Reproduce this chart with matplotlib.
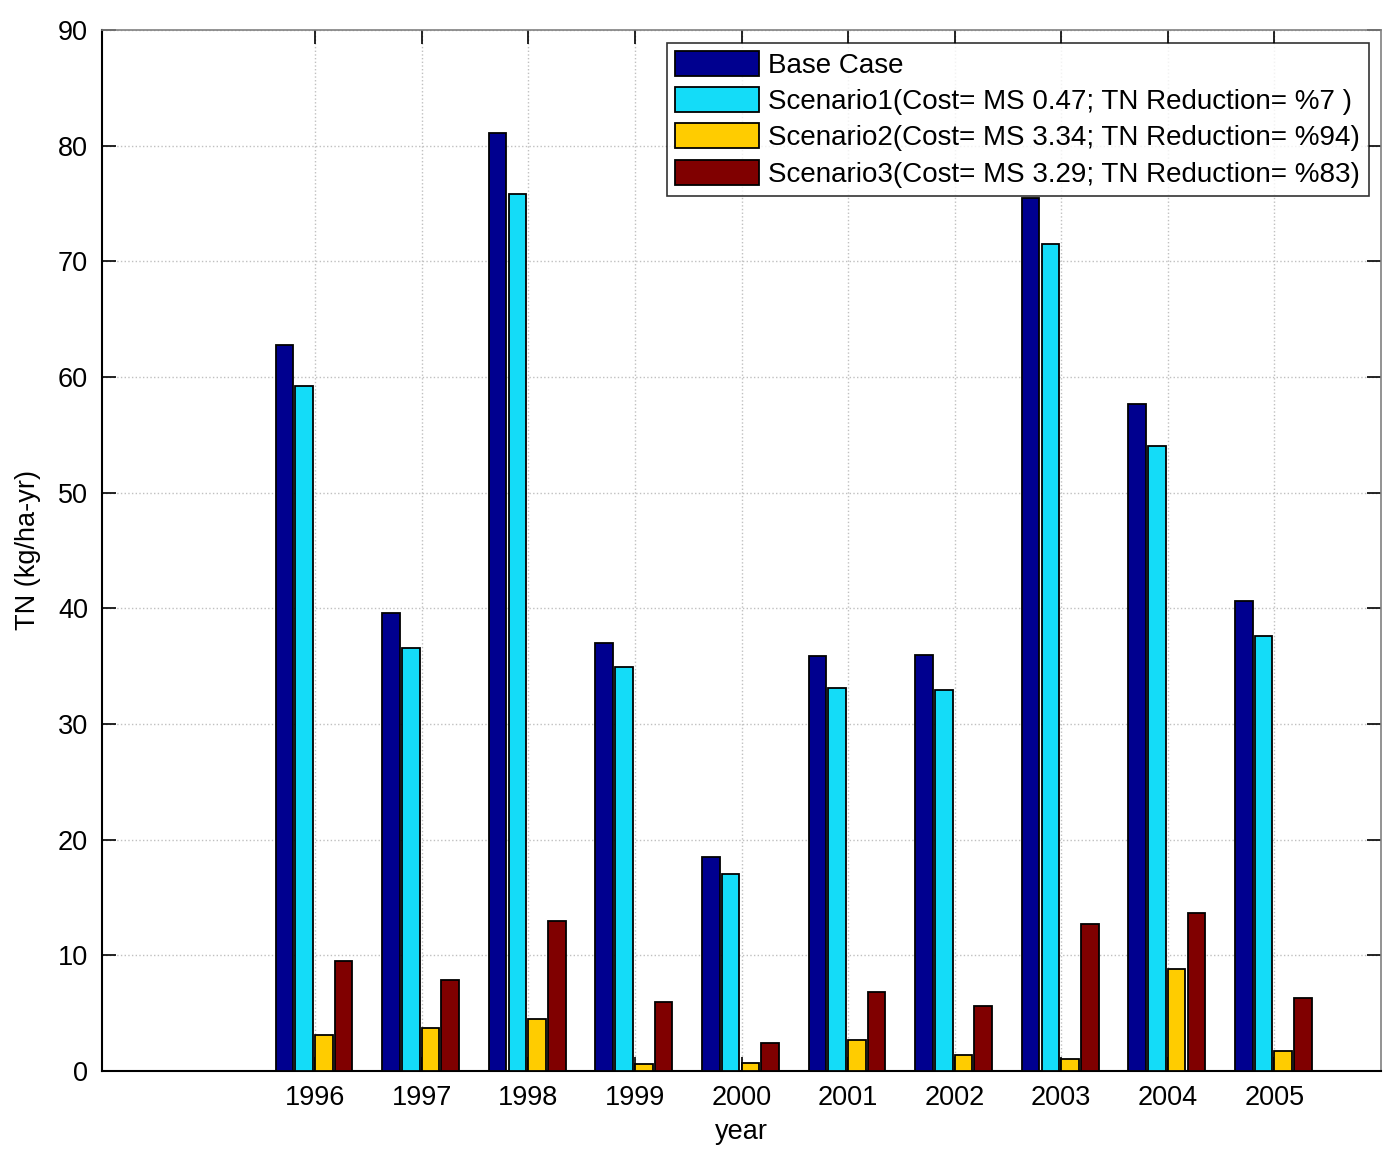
import numpy as np
import matplotlib
matplotlib.use("Agg")
import matplotlib.pyplot as plt

plt.rcParams['font.family'] = ['Liberation Sans', 'DejaVu Sans']

years = [1996, 1997, 1998, 1999, 2000, 2001, 2002, 2003, 2004, 2005]
base_case = [62.8, 39.6, 81.1, 37.0, 18.5, 35.9, 36.0, 75.5, 57.7, 40.6]
scenario1 = [59.2, 36.6, 75.8, 34.9, 17.0, 33.1, 32.9, 71.5, 54.0, 37.6]
scenario2 = [3.1, 3.7, 4.5, 0.6, 0.7, 2.7, 1.4, 1.0, 8.8, 1.7]
scenario3 = [9.5, 7.9, 13.0, 6.0, 2.4, 6.8, 5.6, 12.7, 13.7, 6.3]

labels = ['Base Case',
          'Scenario1(Cost= MS 0.47; TN Reduction= %7 )',
          'Scenario2(Cost= MS 3.34; TN Reduction= %94)',
          'Scenario3(Cost= MS 3.29; TN Reduction= %83)']
colors = ['#00008F', '#14DCF8', '#FFCC00', '#800000']

fig = plt.figure(figsize=(13.84, 11.61), dpi=100)
ax = fig.add_axes([102 / 1384, 1 - 1071 / 1161, (1381 - 102) / 1384, (1071 - 30) / 1161])

x = np.array(years, dtype=float)
series = [base_case, scenario1, scenario2, scenario3]
width = 0.165
for i, (vals, lab, col) in enumerate(zip(series, labels, colors)):
    ax.bar(x + (i - 1.5) * 0.185 - 0.01, vals, width, color=col, edgecolor='black',
           linewidth=1.3, label=lab, zorder=3)

ax.set_xlim(1994, 2006)
ax.set_ylim(0, 90)
ax.set_xticks(years)
ax.set_xticklabels([str(y) for y in years])
ax.set_yticks(np.arange(0, 91, 10))

ax.grid(True, linestyle=':', color='#c0c0c0', linewidth=1.0, zorder=0)
ax.tick_params(direction='in', length=10, width=1.2, labelsize=19.5, top=True, right=True, pad=10)
for s in ['left', 'bottom']:
    ax.spines[s].set_linewidth(1.5)
for s in ['top', 'right']:
    ax.spines[s].set_color('#808080')
    ax.spines[s].set_linewidth(1.2)

ax.set_xlabel('year', fontsize=19.5, labelpad=6)
ax.set_ylabel('TN (kg/ha-yr)', fontsize=19.5, labelpad=12)

leg = ax.legend(loc='upper right', fontsize=20, frameon=True, fancybox=False,
                edgecolor='black', handlelength=3.0, handleheight=1.0,
                borderpad=0.3, labelspacing=0.3, handletextpad=0.35,
                borderaxespad=0.45)
leg.get_frame().set_linewidth(1.2)
leg.set_zorder(5)

fig.savefig('out.png', dpi=100)
